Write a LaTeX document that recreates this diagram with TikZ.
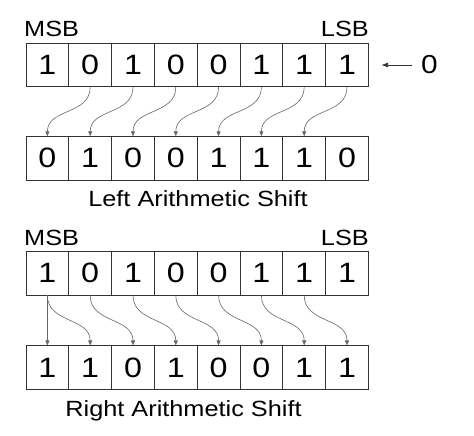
\documentclass[tikz,border=0pt]{standalone}
\usepackage{fontspec}
\setmainfont{Liberation Sans}[FakeStretch=1.15]
\usepackage{tikz}
\usetikzlibrary{arrows.meta}
\tikzstyle{bit}=[rectangle,draw=black!80,line width=0.8pt,minimum width=42.8pt,minimum height=43.3pt,inner sep=0pt,font=\fontsize{28}{30}\selectfont]
\tikzstyle{caption}=[inner sep=0pt,font=\fontsize{22}{24}\selectfont]

\begin{document}
\begin{tikzpicture}[x=1pt,y=-1pt]
    \tikzstyle{movearrow}=[draw=black!60,line width=0.6pt,-{Triangle[length=5pt,width=4pt]}]
    \useasboundingbox (0,0) rectangle (474,436);

    % left arithmetic shift
    \node[caption,anchor=base west] (msba) at (24,36.7) {MSB};
    \node[caption,anchor=base east] (lsba) at (369,36.7) {LSB};

    \node[bit] (a0) at (47.4,65)  {1};
    \node[bit] (a1) at (90.2,65)  {0};
    \node[bit] (a2) at (133.0,65) {1};
    \node[bit] (a3) at (175.8,65) {0};
    \node[bit] (a4) at (218.6,65) {0};
    \node[bit] (a5) at (261.4,65) {1};
    \node[bit] (a6) at (304.2,65) {1};
    \node[bit] (a7) at (347.0,65) {1};

    \node[inner sep=9pt,font=\fontsize{26}{28}\selectfont] (zero) at (429.5,65) {0};
    \coordinate (zin) at (382,65);
    \draw [draw=black!80,line width=0.6pt,-{Triangle[length=6pt,width=4.5pt]}] (zero) -- (zin);

    \node[bit] (b0) at (47.4,158.3)  {0};
    \node[bit] (b1) at (90.2,158.3)  {1};
    \node[bit] (b2) at (133.0,158.3) {0};
    \node[bit] (b3) at (175.8,158.3) {0};
    \node[bit] (b4) at (218.6,158.3) {1};
    \node[bit] (b5) at (261.4,158.3) {1};
    \node[bit] (b6) at (304.2,158.3) {1};
    \node[bit] (b7) at (347.0,158.3) {0};

    \draw [movearrow] (a1.south) .. controls +(0,28) and +(0,-28) .. (b0.north);
    \draw [movearrow] (a2.south) .. controls +(0,28) and +(0,-28) .. (b1.north);
    \draw [movearrow] (a3.south) .. controls +(0,28) and +(0,-28) .. (b2.north);
    \draw [movearrow] (a4.south) .. controls +(0,28) and +(0,-28) .. (b3.north);
    \draw [movearrow] (a5.south) .. controls +(0,28) and +(0,-28) .. (b4.north);
    \draw [movearrow] (a6.south) .. controls +(0,28) and +(0,-28) .. (b5.north);
    \draw [movearrow] (a7.south) .. controls +(0,28) and +(0,-28) .. (b6.north);

    \node[caption,anchor=base] (lshift) at (198,206.7) {Left Arithmetic Shift};

    % right arithmetic shift
    \node[caption,anchor=base west] (msbc) at (24,245) {MSB};
    \node[caption,anchor=base east] (lsbc) at (369,245) {LSB};

    \node[bit] (c0) at (47.4,273.3)  {1};
    \node[bit] (c1) at (90.2,273.3)  {0};
    \node[bit] (c2) at (133.0,273.3) {1};
    \node[bit] (c3) at (175.8,273.3) {0};
    \node[bit] (c4) at (218.6,273.3) {0};
    \node[bit] (c5) at (261.4,273.3) {1};
    \node[bit] (c6) at (304.2,273.3) {1};
    \node[bit] (c7) at (347.0,273.3) {1};

    \node[bit] (d0) at (47.4,367.5)  {1};
    \node[bit] (d1) at (90.2,367.5)  {1};
    \node[bit] (d2) at (133.0,367.5) {0};
    \node[bit] (d3) at (175.8,367.5) {1};
    \node[bit] (d4) at (218.6,367.5) {0};
    \node[bit] (d5) at (261.4,367.5) {0};
    \node[bit] (d6) at (304.2,367.5) {1};
    \node[bit] (d7) at (347.0,367.5) {1};

    \draw [movearrow] (c0.south) -- (d0.north);
    \draw [movearrow] (c0.south) .. controls +(0,28) and +(0,-28) .. (d1.north);
    \draw [movearrow] (c1.south) .. controls +(0,28) and +(0,-28) .. (d2.north);
    \draw [movearrow] (c2.south) .. controls +(0,28) and +(0,-28) .. (d3.north);
    \draw [movearrow] (c3.south) .. controls +(0,28) and +(0,-28) .. (d4.north);
    \draw [movearrow] (c4.south) .. controls +(0,28) and +(0,-28) .. (d5.north);
    \draw [movearrow] (c5.south) .. controls +(0,28) and +(0,-28) .. (d6.north);
    \draw [movearrow] (c6.south) .. controls +(0,28) and +(0,-28) .. (d7.north);

    \node[caption,anchor=base] (rshift) at (183.5,416.7) {Right Arithmetic Shift};

\end{tikzpicture}
\end{document}
